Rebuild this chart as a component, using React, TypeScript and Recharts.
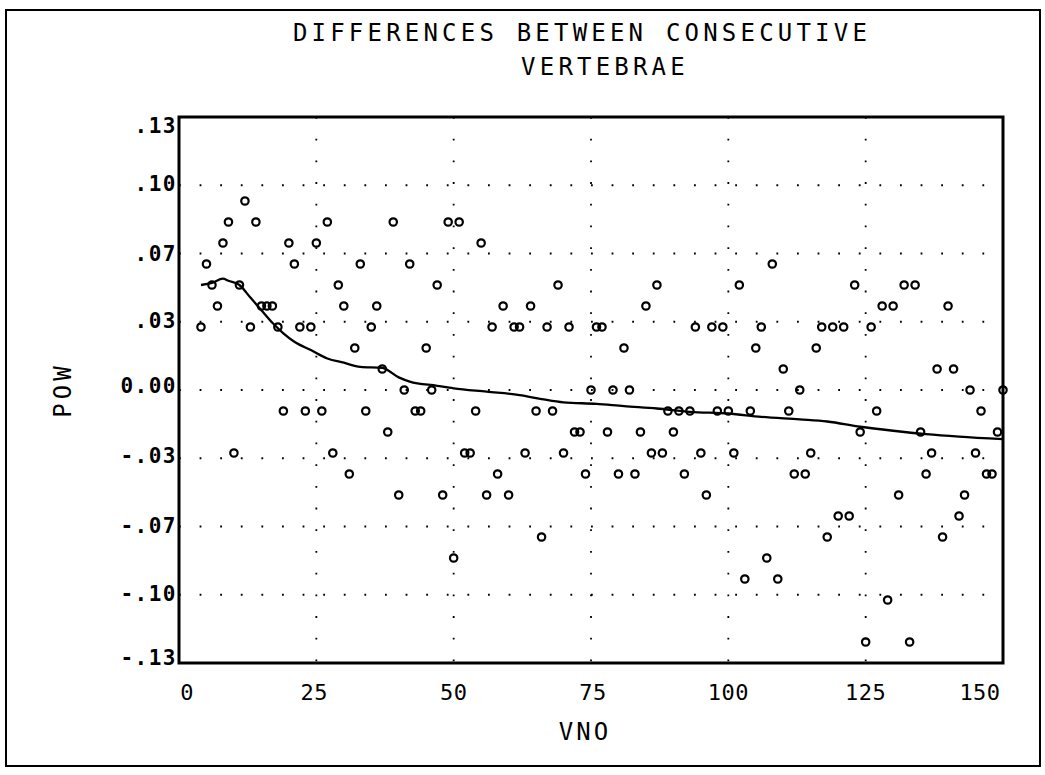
import React from "react";
import {
  ComposedChart,
  Scatter,
  Line,
  XAxis,
  YAxis,
  CartesianGrid,
  ReferenceArea,
} from "recharts";

// vertebra number for each consecutive difference
const vno = [
  4, 5, 6, 7, 8, 9, 10, 11, 12, 13, 14, 15, 16, 17, 18, 19, 20, 21, 22, 23,
  24, 25, 26, 27, 28, 29, 30, 31, 32, 33, 34, 35, 36, 37, 38, 39, 40, 41, 42, 43,
  44, 45, 46, 47, 48, 49, 50, 51, 52, 53, 54, 55, 56, 57, 58, 59, 60, 61, 62, 63,
  64, 65, 66, 67, 68, 69, 70, 71, 72, 73, 74, 75, 76, 77, 78, 79, 80, 81, 82, 83,
  84, 85, 86, 87, 88, 89, 90, 91, 92, 93, 94, 95, 96, 97, 98, 99, 100, 101, 102, 103,
  104, 105, 106, 107, 108, 109, 110, 111, 112, 113, 114, 115, 116, 117, 118, 119, 120, 121, 122, 123,
  124, 125, 126, 127, 128, 129, 130, 131, 132, 133, 134, 135, 136, 137, 138, 139, 140, 141, 142, 143,
  144, 145, 146, 147, 148, 149, 150,
];

// POW difference at each vertebra
const pow = [
  0.03, 0.06, 0.05, 0.04, 0.07, 0.08, -0.03, 0.05, 0.09, 0.03, 0.08, 0.04, 0.04, 0.04, 0.03, -0.01, 0.07, 0.06, 0.03, -0.01,
  0.03, 0.07, -0.01, 0.08, -0.03, 0.05, 0.04, -0.04, 0.02, 0.06, -0.01, 0.03, 0.04, 0.01, -0.02, 0.08, -0.05, 0.0, 0.06, -0.01,
  -0.01, 0.02, 0.0, 0.05, -0.05, 0.08, -0.08, 0.08, -0.03, -0.03, -0.01, 0.07, -0.05, 0.03, -0.04, 0.04, -0.05, 0.03, 0.03, -0.03,
  0.04, -0.01, -0.07, 0.03, -0.01, 0.05, -0.03, 0.03, -0.02, -0.02, -0.04, 0.0, 0.03, 0.03, -0.02, 0.0, -0.04, 0.02, 0.0, -0.04,
  -0.02, 0.04, -0.03, 0.05, -0.03, -0.01, -0.02, -0.01, -0.04, -0.01, 0.03, -0.03, -0.05, 0.03, -0.01, 0.03, -0.01, -0.03, 0.05, -0.09,
  -0.01, 0.02, 0.03, -0.08, 0.06, -0.09, 0.01, -0.01, -0.04, 0.0, -0.04, -0.03, 0.02, 0.03, -0.07, 0.03, -0.06, 0.03, -0.06, 0.05,
  -0.02, -0.12, 0.03, -0.01, 0.04, -0.1, 0.04, -0.05, 0.05, -0.12, 0.05, -0.02, -0.04, -0.03, 0.01, -0.07, 0.04, 0.01, -0.06, -0.05,
  0.0, -0.03, -0.01, -0.04, -0.04, -0.02, 0.0,
];

// smoothed trend
const smoothVno = [
  4, 6, 8, 9, 11, 13, 15, 17, 19, 21, 24, 27, 30, 33, 37, 40, 42, 47, 50, 56,
  62, 66, 70, 76, 81, 87, 93, 100, 106, 113, 118, 124, 130, 136, 142, 150,
];
const smoothPow = [
  0.05, 0.051, 0.053, 0.052, 0.05, 0.044, 0.038, 0.032, 0.027, 0.023, 0.019, 0.015, 0.013, 0.011, 0.0105, 0.006, 0.004, 0.002, 0.0008, -0.0008,
  -0.0024, -0.0043, -0.0059, -0.0066, -0.0077, -0.0088, -0.0104, -0.0112, -0.0128, -0.014, -0.015, -0.0175, -0.0194, -0.021, -0.0222, -0.0234,
];

const xTicks = [0, 25, 50, 75, 100, 125, 150];
const xTickLabels = ["0", "25", "50", "75", "100", "125", "150"];
const yTicks = [-0.13, -0.0975, -0.065, -0.0325, 0, 0.0325, 0.065, 0.0975, 0.13];
const yTickLabels = ["-.13", "-.10", "-.07", "-.03", "0.00", ".03", ".07", ".10", ".13"];

const FONT = "'DejaVu Sans Mono', monospace";

const points = vno.map((v, i) => ({ x: v, y: pow[i] }));
const trend = smoothVno.map((v, i) => ({ x: v, y: smoothPow[i] }));

const xShift = [8, -2, 0, 2, 0, 0, -23];
const yShift = [-6, -1.5, -1, -3, -5, -1, 0, -1.5, 8];

function XTick(props: any) {
  const { x, y, payload } = props;
  const i = xTicks.indexOf(payload.value);
  return (
    <text
      x={x + (xShift[i] ?? 0)}
      y={y + 29}
      textAnchor="middle"
      fontFamily={FONT}
      fontSize={22}
      letterSpacing={0.5}
      fill="#000"
    >
      {xTickLabels[i]}
    </text>
  );
}

function YTick(props: any) {
  const { y, payload } = props;
  const i = yTicks.indexOf(payload.value);
  return (
    <text
      x={177}
      y={y + (yShift[i] ?? 0)}
      dy="0.36em"
      textAnchor="end"
      fontFamily={FONT}
      fontSize={21}
      fontWeight="bold"
      letterSpacing={1.5}
      fill="#000"
    >
      {yTickLabels[i]}
    </text>
  );
}

function Ring(props: any) {
  const { cx, cy } = props;
  return <circle cx={cx} cy={cy} r={3.7} fill="none" stroke="#000" strokeWidth={2.2} />;
}

export default function App() {
  return (
    <div style={{ position: "absolute", left: 0, top: 0, width: 1045, height: 775, background: "#fff" }}>
      <ComposedChart
        width={1045}
        height={775}
        margin={{ top: 117, right: 42, bottom: 0, left: 0 }}
      >
        <CartesianGrid
          horizontal={false}
          stroke="#000"
          strokeWidth={1.8}
          strokeDasharray="1.8 19.9"
        />
        <CartesianGrid
          vertical={false}
          stroke="#000"
          strokeWidth={1.8}
          strokeDasharray="1.8 18.8"
        />
        <XAxis
          dataKey="x"
          type="number"
          domain={[0, 150]}
          ticks={xTicks}
          interval={0}
          height={112}
          axisLine={false}
          tickLine={false}
          tick={<XTick />}
        />
        <YAxis
          type="number"
          domain={[-0.13, 0.13]}
          ticks={yTicks}
          interval={0}
          width={179}
          axisLine={false}
          tickLine={false}
          tick={<YTick />}
        />
        <ReferenceArea
          x1={0}
          x2={150}
          y1={-0.13}
          y2={0.13}
          fill="none"
          fillOpacity={0}
          stroke="#000"
          strokeWidth={3}
          ifOverflow="visible"
        />
        <Line
          data={trend}
          dataKey="y"
          type="monotone"
          stroke="#000"
          strokeWidth={2.3}
          dot={false}
          activeDot={false}
          isAnimationActive={false}
        />
        <Scatter data={points} dataKey="y" shape={<Ring />} isAnimationActive={false} />
      </ComposedChart>
      <svg
        width={1045}
        height={775}
        style={{ position: "absolute", left: 0, top: 0, pointerEvents: "none" }}
      >
        <rect x={6} y={10} width={1034} height={756} fill="none" stroke="#000" strokeWidth={2} />
        <g fontFamily={FONT} fontSize={24} fill="#000" textAnchor="middle" letterSpacing={4.2}>
          <text x={582} y={41}>DIFFERENCES BETWEEN CONSECUTIVE</text>
          <text x={605} y={75}>VERTEBRAE</text>
        </g>
        <text
          x={585}
          y={740}
          fontFamily={FONT}
          fontSize={24}
          letterSpacing={3}
          textAnchor="middle"
          fill="#000"
        >
          VNO
        </text>
        <text
          transform="translate(71 390) rotate(-90)"
          fontFamily={FONT}
          fontSize={24}
          letterSpacing={4}
          textAnchor="middle"
          fill="#000"
        >
          POW
        </text>
      </svg>
    </div>
  );
}
